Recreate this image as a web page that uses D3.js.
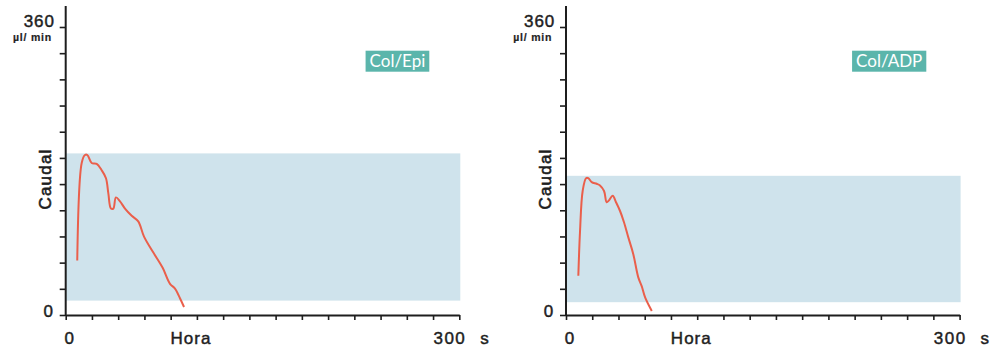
<!DOCTYPE html>
<html>
<head>
<meta charset="utf-8">
<script src="https://cdn.jsdelivr.net/npm/d3@7"></script>
<style>
  html, body { margin: 0; padding: 0; background: #fff; }
  svg { display: block; }
</style>
</head>
<body>
<div id="chart"></div>
<script>
const width = 995;
const height = 350;

// time (s) / flow (µl/min)
const epiTime = [8.8, 12.2, 14.7, 16.5, 19.8, 23.6, 27.4, 30.7, 32.5, 34.5, 36.3, 38.3, 41.4, 45.2, 50.3, 55.3, 59.7, 66.8, 73.9, 79.5, 83.3, 87.1, 90.2];
const epiFlow = [68, 190, 200, 200, 190, 189, 181, 171, 152, 133, 133, 147, 142, 133, 124, 117, 98, 78, 59, 39, 33, 21, 10];
const adpTime = [9.4, 10.7, 12.7, 15.3, 17.0, 19.6, 23.4, 25.9, 29.0, 31.0, 32.6, 35.6, 38.1, 41.2, 44.2, 47.5, 51.3, 55.1, 57.7, 60.3, 65.4];
const adpFlow = [49, 105, 155, 171, 171, 166, 164, 162, 155, 141, 143, 149, 141, 130, 116, 97, 76, 47, 36, 22, 5];

// normal range band (µl/min)
const epiBand = [18, 202];
const adpBand = [16, 174];

const panelNames = ["Col/Epi", "Col/ADP"];
const yTickLabels = ["0", "360"];
const xTickLabels = ["0", "300"];
const yTitle = "Caudal";
const xTitle = "Hora";
const yUnit = "µl/ min";
const xUnit = "s";

const lineColor = "#ea5f4b";
const bandColor = "#cfe3ec";
const badgeColor = "#5bb5ab";
const inkColor = "#1e1e1e";

const svg = d3.select("#chart")
  .append("svg")
  .attr("width", width)
  .attr("height", height);

function addText(g, props, content) {
  const t = g.append("text")
    .attr("font-family", "'Liberation Sans', Arial, sans-serif")
    .attr("fill", inkColor)
    .attr("stroke", inkColor)
    .attr("stroke-width", 0.45);
  Object.entries(props).forEach(([k, v]) => t.attr(k, v));
  return t.text(content);
}

function drawPanel(offsetX, name, times, flows, band) {
  const g = svg.append("g").attr("transform", `translate(${offsetX},0)`);

  const x = d3.scaleLinear().domain([0, 300]).range([65.7, 459.3]);
  const y = d3.scaleLinear().domain([0, 360]).range([315, 27]);

  // normal band
  g.append("rect")
    .attr("x", x(0))
    .attr("y", y(band[1]))
    .attr("width", x(300) - x(0) + 1)
    .attr("height", y(band[0]) - y(band[1]))
    .attr("fill", bandColor);

  // y axis
  const yAxis = g.append("g")
    .attr("transform", `translate(${x(0)},0)`)
    .call(d3.axisLeft(y)
      .tickValues(d3.range(12).map((i) => (i * 360) / 11))
      .tickSize(6)
      .tickSizeOuter(0)
      .tickFormat(""));
  yAxis.select(".domain").remove();
  yAxis.selectAll("line").attr("stroke", inkColor).attr("stroke-width", 1.6);
  g.append("line")
    .attr("x1", x(0)).attr("x2", x(0))
    .attr("y1", y(0) + 1).attr("y2", y(360) - 21)
    .attr("stroke", inkColor)
    .attr("stroke-width", 2);

  // x axis
  const xAxis = g.append("g")
    .attr("transform", `translate(0,${y(0)})`)
    .call(d3.axisBottom(x)
      .tickValues(d3.range(0, 301, 20))
      .tickSize(5)
      .tickSizeOuter(0)
      .tickFormat(""));
  xAxis.select(".domain").attr("stroke", inkColor).attr("stroke-width", 2);
  xAxis.selectAll("line").attr("stroke", inkColor).attr("stroke-width", 1.6);

  // y labels
  addText(g, { x: 55, y: y(360) - 0.5, "text-anchor": "end", "font-size": 17, "letter-spacing": 1 }, yTickLabels[1]);
  addText(g, { x: 52, y: 40.5, "text-anchor": "end", "font-size": 10.5, "font-weight": "bold", "letter-spacing": 0.8, "stroke-width": 0.2 }, yUnit);
  addText(g, { x: 53, y: y(0) + 1.5, "text-anchor": "end", "font-size": 17 }, yTickLabels[0]);
  addText(g, { transform: `translate(51,${y(170)}) rotate(-90)`, "text-anchor": "middle", "font-size": 17, "letter-spacing": 1.2, "stroke-width": 0.6 }, yTitle);

  // x labels
  addText(g, { x: x(0) + 3.5, y: 344, "text-anchor": "middle", "font-size": 17 }, xTickLabels[0]);
  addText(g, { x: x(95.5), y: 344, "text-anchor": "middle", "font-size": 17, "letter-spacing": 1 }, xTitle);
  addText(g, { x: x(300) + 7, y: 344, "text-anchor": "end", "font-size": 17, "letter-spacing": 1.5 }, xTickLabels[1]);
  addText(g, { x: x(300) + 21, y: 344, "font-size": 17 }, xUnit);

  // trace
  const pts = times.map((t, i) => [t, flows[i]]);
  const line = d3.line()
    .x((d) => x(d[0]))
    .y((d) => y(d[1]))
    .curve(d3.curveCatmullRom.alpha(0.5));
  g.append("path")
    .datum(pts)
    .attr("fill", "none")
    .attr("stroke", lineColor)
    .attr("stroke-width", 2)
    .attr("stroke-linejoin", "round")
    .attr("d", line);

  // badge
  const badge = g.append("g");
  const label = badge.append("text")
    .attr("font-family", "Lato, 'Open Sans', sans-serif")
    .attr("font-size", 17)
    .attr("fill", "#fff")
    .attr("text-anchor", "middle")
    .text(name);
  const w = label.node().getComputedTextLength() + 8;
  const right = name === panelNames[0] ? 429.3 : 426;
  badge.insert("rect", "text")
    .attr("x", right - w).attr("y", 50.7)
    .attr("width", w).attr("height", 21)
    .attr("fill", badgeColor);
  label.attr("x", right - w / 2).attr("y", 67);
}

drawPanel(0, panelNames[0], epiTime, epiFlow, epiBand);
drawPanel(500.3, panelNames[1], adpTime, adpFlow, adpBand);
</script>
</body>
</html>
